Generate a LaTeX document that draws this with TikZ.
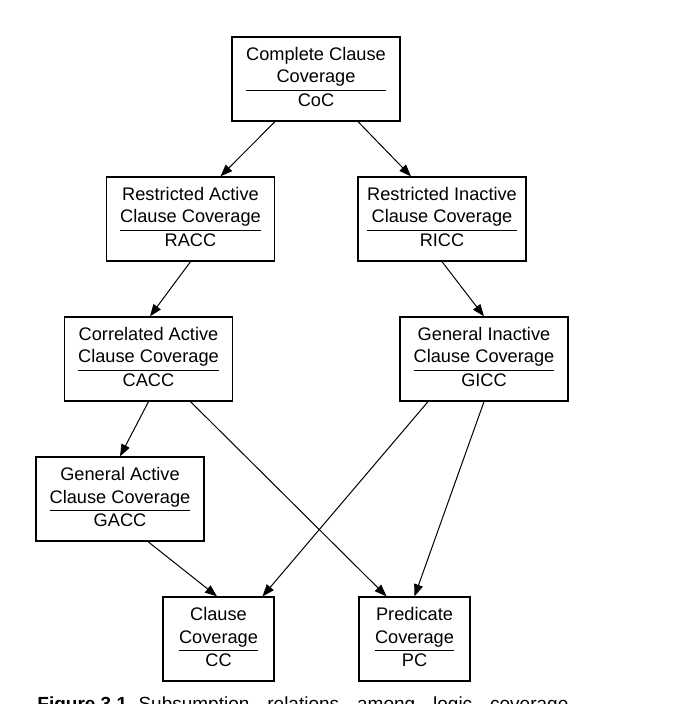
\documentclass[tikz,border=0pt]{standalone}
\usepackage{fontspec}
\setmainfont{Liberation Sans}
\usetikzlibrary{arrows.meta}
\setlength{\arrayrulewidth}{0.5pt}
\newcommand{\crit}[3]{\begin{tabular}{@{}c@{}}#1\\#2\\\hline #3\end{tabular}}

\begin{document}
\begin{tikzpicture}[x=0.5pt,y=-0.5pt,
	covbox/.style={draw,line width=0.65pt,inner sep=0pt,minimum width=84pt,minimum height=42pt,font=\fontsize{9.1}{11.25}\selectfont},
	smallbox/.style={covbox,minimum width=55.5pt},
	subsumes/.style={-{Triangle[length=6pt,width=4.5pt]},line width=0.5pt}]
	\useasboundingbox (0,0) rectangle (677,704);
	\node[covbox] (coc) at (316,79) {\crit{Complete Clause}{Coverage}{CoC}};
	\node[covbox] (racc) at (190.5,219) {\crit{Restricted Active}{Clause Coverage}{RACC}};
	\node[covbox] (ricc) at (442,219) {\crit{Restricted Inactive}{Clause Coverage}{RICC}};
	\node[covbox] (cacc) at (148.5,359) {\crit{Correlated Active}{Clause Coverage}{CACC}};
	\node[covbox] (gicc) at (484,359) {\crit{General Inactive}{Clause Coverage}{GICC}};
	\node[covbox] (gacc) at (120,499) {\crit{General Active}{Clause Coverage}{GACC}};
	\node[smallbox] (cc) at (218.5,639) {\crit{Clause}{Coverage}{CC}};
	\node[smallbox] (pc) at (414.5,639) {\crit{Predicate}{Coverage}{PC}};
	\draw[subsumes] ([xshift=-20.5pt]coc.south) -- ([xshift=15pt]racc.north);
	\draw[subsumes] ([xshift=21pt]coc.south) -- ([xshift=-15.5pt]ricc.north);
	\draw[subsumes] (racc.south) -- ([xshift=0.75pt]cacc.north);
	\draw[subsumes] (ricc.south) -- (gicc.north);
	\draw[subsumes] (cacc.south) -- (gacc.north);
	\draw[subsumes] ([xshift=21pt]cacc.south) -- ([xshift=-14pt]pc.north);
	\draw[subsumes] ([xshift=-28pt]gicc.south) -- ([xshift=22pt]cc.north);
	\draw[subsumes] (gicc.south) -- (pc.north);
	\draw[subsumes] ([xshift=14pt]gacc.south) -- ([xshift=-0.75pt]cc.north);
	\node[anchor=base west,inner sep=0pt,font=\fontsize{9.5}{11}\selectfont] (caption) at (37,710.5)
		{\makebox[265.5pt][s]{\mbox{\textbf{Figure 3.1}}\hspace{0.6em}Subsumption relations among logic coverage}};
\end{tikzpicture}
\end{document}
